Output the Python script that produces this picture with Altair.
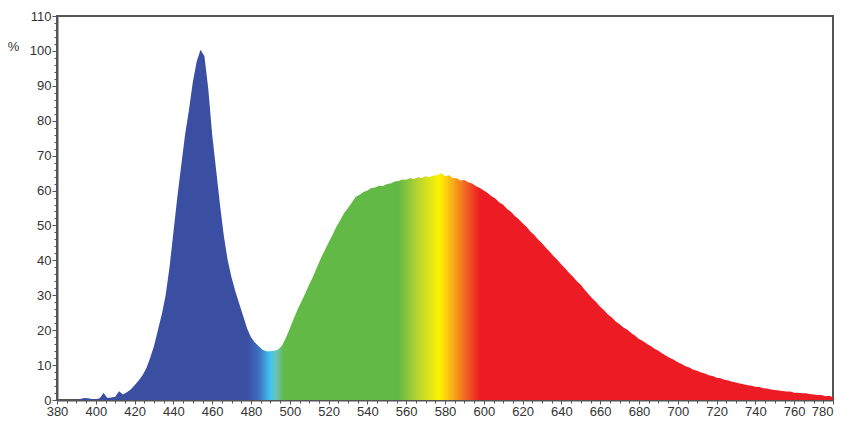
import altair as alt
import pandas as pd

# wavelength grid (nm) and relative intensity (%)
nm = list(range(380, 781, 2))
intensity = [
    0, 0, 0, 0, 0, 0.1, 0.3, 0.6, 0.5, 0.3,
    0.2, 0.5, 2.0, 0.6, 0.7, 0.9, 2.5, 1.6, 2.2, 3.0,
    4.2, 5.5, 7.0, 9.0, 12.0, 15.5, 20.0, 24.5, 30.0, 38.0,
    48.0, 58.0, 67.0, 76.0, 83.0, 91.0, 97.0, 100.3, 98.5, 89.0,
    76.0, 66.0, 56.0, 47.0, 40.0, 35.0, 31.0, 27.5, 24.0, 20.5,
    18.0, 16.5, 15.4, 14.4, 14.0, 14.0, 14.1, 14.5, 15.6, 17.8,
    20.5, 23.3, 25.9, 28.2, 30.6, 33.1, 35.4, 38.0, 40.6, 42.8,
    45.1, 47.3, 49.6, 51.5, 53.6, 55.0, 56.6, 58.2, 58.8, 59.6,
    60.0, 60.7, 60.9, 61.4, 61.3, 61.9, 62.0, 62.6, 62.7, 63.2,
    63.1, 63.6, 63.3, 63.8, 63.6, 64.1, 63.9, 64.3, 64.4, 65.0,
    64.1, 64.4, 63.6, 63.5, 62.9, 63.0, 62.4, 62.0, 61.2, 60.7,
    60.0, 59.3, 58.4, 57.7, 56.6, 55.9, 54.7, 53.9, 52.7, 51.8,
    50.6, 49.6, 48.3, 47.3, 46.0, 44.9, 43.6, 42.5, 41.2, 40.1,
    38.8, 37.7, 36.4, 35.3, 34.0, 33.0, 31.6, 30.3, 29.1, 28.0,
    26.7, 25.7, 24.5, 23.6, 22.5, 21.7, 20.8, 20.1, 19.2, 18.4,
    17.5, 16.9, 16.1, 15.5, 14.7, 14.1, 13.3, 12.7, 12.0, 11.5,
    10.8, 10.3, 9.7, 9.3, 8.7, 8.4, 7.9, 7.6, 7.1, 6.9,
    6.4, 6.2, 5.8, 5.6, 5.2, 5.0, 4.7, 4.5, 4.2, 4.1,
    3.8, 3.7, 3.4, 3.3, 3.0, 2.9, 2.7, 2.6, 2.4, 2.4,
    2.1, 2.1, 1.9, 1.9, 1.7, 1.6, 1.4, 1.4, 1.1, 1.2,
    0.8,
]

# spectral colour stops (wavelength nm -> colour)
stop_nm = [380, 478, 484, 490, 493, 497, 556, 566, 577, 584, 590, 598, 780]
stop_colors = ["#3b4fa2", "#3b4fa2", "#3f6fc0", "#3ec6f2", "#6cc3b8", "#62b946",
               "#62b946", "#b7d432", "#fff200", "#f9ad18", "#f26b22", "#ed1c24", "#ed1c24"]

x_major = list(range(380, 781, 20))
x_minor = list(range(380, 781, 5))
y_major = list(range(0, 111, 10))
y_minor = list(range(0, 111, 2))

df = pd.DataFrame({"nm": nm, "val": intensity})

lo, hi = 380, 780
gradient = alt.Gradient(
    gradient="linear",
    stops=[alt.GradientStop(offset=(w - lo) / (hi - lo), color=c) for w, c in zip(stop_nm, stop_colors)],
    x1=0, x2=1, y1=0, y2=0,
)

xscale = alt.Scale(domain=[380, 780], nice=False, zero=False)
yscale = alt.Scale(domain=[0, 110], nice=False)

font = "Liberation Sans"

area = alt.Chart(df).mark_area(color=gradient, interpolate="linear").encode(
    x=alt.X("nm:Q", scale=xscale,
            axis=alt.Axis(values=x_major, title=None, orient="bottom", tickSize=4,
                          labelFontSize=13, labelFont=font, labelColor="#333",
                          labelAlign={"condition": {"test": "datum.value == 780", "value": "right"},
                                      "value": "center"},
                          tickColor="#555", domainColor="#555", domainWidth=2,
                          labelPadding=1, grid=False, labelFlush=False, labelOverlap=False)),
    y=alt.Y("val:Q", scale=yscale,
            axis=alt.Axis(values=y_major, title="%", orient="left", titleAngle=0,
                          titleX=-44, titleY=30,
                          titleFontSize=13, titleFont=font, titleFontWeight="normal",
                          titleColor="#333", titleAlign="center", titleBaseline="middle",
                          tickSize=5, labelFontSize=13, labelFont=font, labelColor="#333",
                          tickColor="#555", domainColor="#555", domainWidth=2,
                          labelPadding=1, grid=False, labelOverlap=False)),
)

minor = alt.Chart(df).mark_line(strokeOpacity=0).encode(
    x=alt.X("nm:Q", scale=xscale,
            axis=alt.Axis(values=x_minor, labels=False, title=None, orient="bottom",
                          tickSize=3, tickColor="#555", domain=False, grid=False)),
    y=alt.Y("val:Q", scale=yscale,
            axis=alt.Axis(values=y_minor, labels=False, title=None, orient="left",
                          tickSize=3, tickColor="#555", domain=False, grid=False)),
)

chart = alt.layer(minor, area).resolve_axis(x="independent", y="independent").properties(
    width=776, height=384,
    autosize=alt.AutoSizeParams(type="none"),
    padding={"left": 49, "top": 8, "right": 1, "bottom": 16},
    background="white",
).configure_view(stroke="#555", strokeWidth=2)

chart.save("out.html", embed_options={"renderer": "svg", "actions": False})
